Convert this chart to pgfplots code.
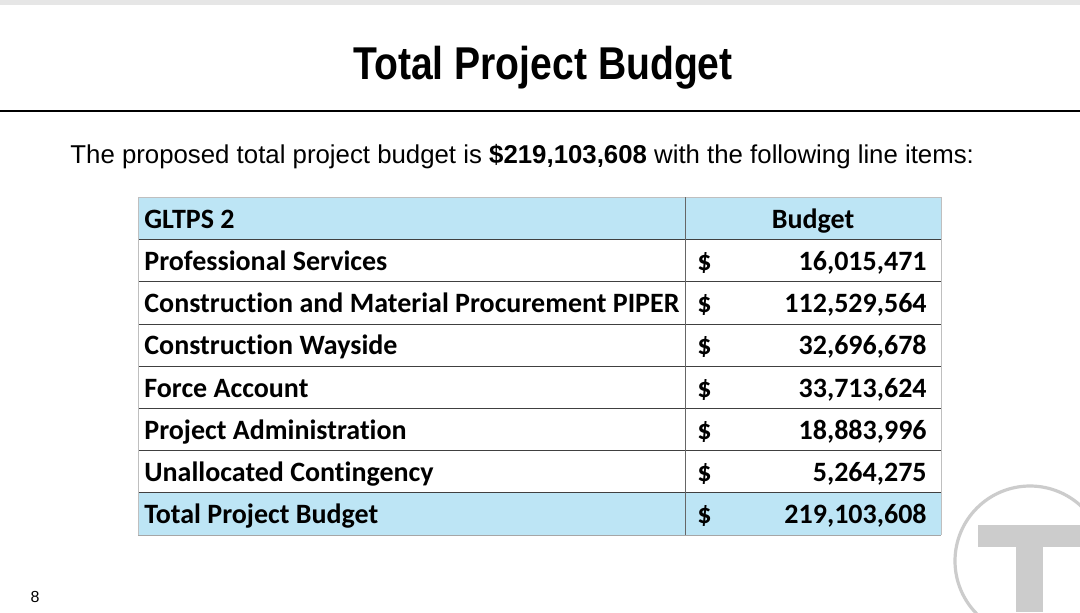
\documentclass[border=0pt]{standalone}
\usepackage{pgfplots}
\pgfplotsset{compat=1.18}
\usepackage{fontspec}
\setmainfont{Liberation Sans}
\newfontfamily\titlefont[FakeStretch=0.85]{Liberation Sans}
\newfontfamily\tabfont[Ligatures=NoCommon]{Carlito}
\definecolor{hdr}{HTML}{BDE5F5}
\definecolor{logo}{HTML}{CCCCCC}
\definecolor{band}{HTML}{E6E6E6}
\pgfkeys{/pgf/number format/.cd,fixed,precision=0,1000 sep={,},assume math mode=true}
\newcommand{\money}[1]{\pgfmathprintnumber{#1}}
\newcommand{\rowline}[1]{\draw[black!75, line width=0.5pt] (axis cs:138,#1) -- (axis cs:941,#1);}
\newcommand{\tabrow}[3]{%
  \node[anchor=base west] at (axis cs:144,#1) {#2};
  \node[anchor=base west] at (axis cs:697,#1) {\$};
  \node[anchor=base east] at (axis cs:927,#1) {\money{#3}};}
\begin{document}
\begin{tikzpicture}
\begin{axis}[scale only axis, width=540pt, height=306pt,
  xmin=0, xmax=1080, ymin=0, ymax=612, y dir=reverse,
  hide axis, clip=false]
\begin{scope}
\clip (axis cs:0,0) rectangle (axis cs:1080,612);
\fill[white] (axis cs:0,0) rectangle (axis cs:1080,612);
\fill[band] (axis cs:0,0) rectangle (axis cs:1080,5);
% title
\node[anchor=base, inner sep=0pt] at (axis cs:543,79) {\titlefont\bfseries\fontsize{23}{27}\selectfont Total Project Budget};
\draw[black, line width=0.8pt] (axis cs:0,111) -- (axis cs:1080,111);
% subtitle
\node[anchor=base west, inner sep=0pt] at (axis cs:70,163) {\fontsize{12.9}{15}\selectfont The proposed total project budget is \textbf{\$219,103,608} with the following line items:};
% table fills
\fill[hdr] (axis cs:138,197) rectangle (axis cs:941,239.5);
\fill[hdr] (axis cs:138,492.5) rectangle (axis cs:941,535);
% horizontal lines
\rowline{239.5}\rowline{281.5}\rowline{324}\rowline{366}\rowline{408}\rowline{450.5}\rowline{492.5}
\draw[black!25, line width=0.5pt] (axis cs:138,197) -- (axis cs:941,197);
\draw[black!35, line width=0.5pt] (axis cs:138,535) -- (axis cs:941,535);
% vertical lines
\draw[black!25, line width=0.5pt] (axis cs:138,197) -- (axis cs:138,535);
\draw[black!25, line width=0.5pt] (axis cs:941,197) -- (axis cs:941,535);
\draw[black!60, line width=0.5pt] (axis cs:685,197) -- (axis cs:685,535);
% table text
\begin{scope}[every node/.style={inner sep=0pt, font=\tabfont\bfseries\fontsize{14}{16}\selectfont}]
\node[anchor=base west] at (axis cs:144,228) {GLTPS 2};
\node[anchor=base] at (axis cs:813,228) {Budget};
\tabrow{270.25}{Professional Services}{16015471}
\tabrow{312.5}{Construction and Material Procurement PIPER}{112529564}
\tabrow{354.75}{Construction Wayside}{32696678}
\tabrow{397}{Force Account}{33713624}
\tabrow{439.25}{Project Administration}{18883996}
\tabrow{481.5}{Unallocated Contingency}{5264275}
\tabrow{523.75}{Total Project Budget}{219103608}
\end{scope}
% logo
\draw[logo, line width=1.6pt] (axis cs:1030,561) circle[radius=37.5pt];
\fill[logo] (axis cs:978,525) rectangle (axis cs:1085,547);
\fill[logo] (axis cs:1016,547) rectangle (axis cs:1043,612);
% page number
\node[anchor=base, inner sep=0pt] at (axis cs:35,602) {\fontsize{8}{10}\selectfont 8};
\end{scope}
\end{axis}
\end{tikzpicture}
\end{document}
